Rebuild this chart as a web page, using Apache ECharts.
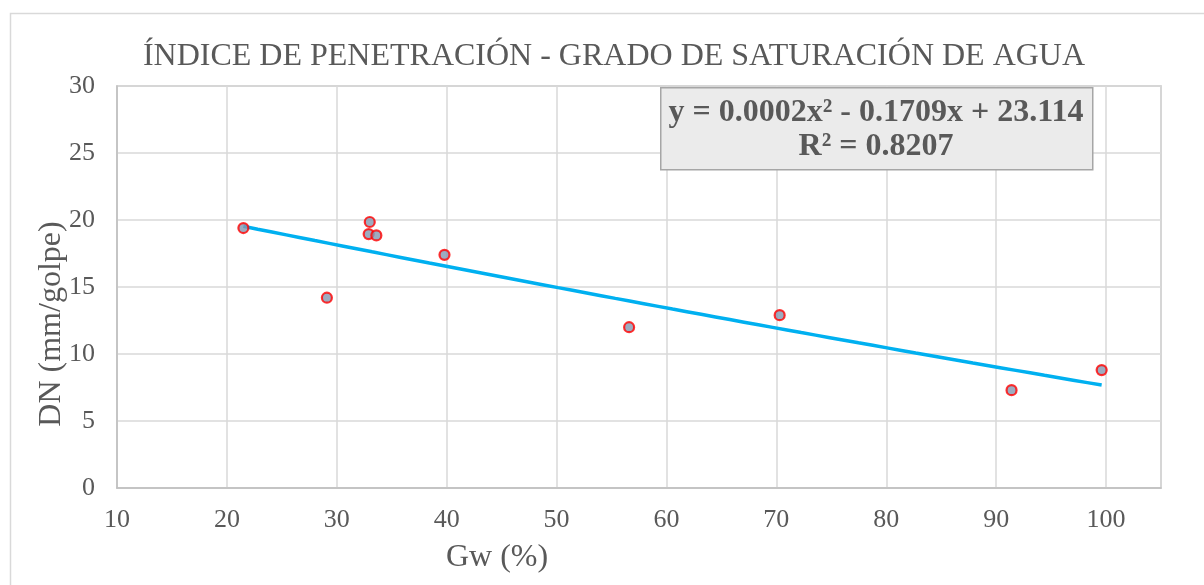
<!DOCTYPE html>
<html>
<head>
<meta charset="utf-8">
<script src="https://cdn.jsdelivr.net/npm/echarts@6/dist/echarts.min.js"></script>
<style>
html,body{margin:0;padding:0;background:#fff;}
#c{width:1204px;height:585px;}
</style>
</head>
<body>
<div id="c"></div>
<script>
// Data
const gw = [21.5, 29.1, 33.0, 32.9, 33.6, 39.8, 56.6, 70.3, 91.4, 99.6];
const dn = [19.4, 14.2, 19.85, 18.95, 18.85, 17.4, 12.0, 12.9, 7.3, 8.8];
const titleText = 'ÍNDICE DE PENETRACIÓN - GRADO DE SATURACIÓN DE AGUA';
const xTitle = 'Gw (%)';
const yTitle = 'DN (mm/golpe)';
const eqLine1 = 'y = 0.0002x² - 0.1709x + 23.114';
const eqLine2 = 'R² = 0.8207';

// Polynomial (order 2) least-squares trendline through the data, as the original does
function polyFit2(xs, ys) {
  let n = xs.length, s = [0,0,0,0,0], t = [0,0,0];
  for (let i = 0; i < n; i++) {
    let x = xs[i], y = ys[i], p = 1;
    for (let k = 0; k < 5; k++) { s[k] += p; if (k < 3) t[k] += p * y; p *= x; }
  }
  const A = [[s[0],s[1],s[2],t[0]],[s[1],s[2],s[3],t[1]],[s[2],s[3],s[4],t[2]]];
  for (let i = 0; i < 3; i++) {
    let m = i; for (let r = i+1; r < 3; r++) if (Math.abs(A[r][i]) > Math.abs(A[m][i])) m = r;
    [A[i], A[m]] = [A[m], A[i]];
    for (let r = 0; r < 3; r++) if (r !== i) {
      const f = A[r][i] / A[i][i];
      for (let c = i; c < 4; c++) A[r][c] -= f * A[i][c];
    }
  }
  return [A[0][3]/A[0][0], A[1][3]/A[1][1], A[2][3]/A[2][2]];
}
const coef = polyFit2(gw, dn);
const xMin = Math.min(...gw), xMax = Math.max(...gw);
const trend = [];
for (let i = 0; i <= 60; i++) {
  const x = xMin + (xMax - xMin) * i / 60;
  trend.push([x, coef[0] + coef[1]*x + coef[2]*x*x]);
}

const textColor = '#595959';
const font = '"Liberation Serif", "Times New Roman", serif';

const chart = echarts.init(document.getElementById('c'));
chart.setOption({
  animation: false,
  backgroundColor: '#fff',
  textStyle: { fontFamily: font },
  grid: { left: 117, right: 43, top: 86, bottom: 97, show: true, borderColor: '#bfbfbf', borderWidth: 1.5 },
  xAxis: {
    type: 'value', min: 10, max: 105, interval: 10,
    axisLine: { show: true, lineStyle: { color: '#bfbfbf', width: 1.5 } },
    axisTick: { show: false },
    axisLabel: { color: textColor, fontSize: 26, fontFamily: font, margin: 19, showMaxLabel: false,
      formatter: v => (v % 10 === 0 ? String(v) : '') },
    splitLine: { show: true, lineStyle: { color: '#d9d9d9', width: 1.5 } }
  },
  yAxis: {
    type: 'value', min: 0, max: 30, interval: 5,
    axisLine: { show: true, lineStyle: { color: '#bfbfbf', width: 1.5 } },
    axisTick: { show: false },
    axisLabel: { color: textColor, fontSize: 26, fontFamily: font, margin: 22 },
    splitLine: { show: true, lineStyle: { color: '#d9d9d9', width: 1.5 } }
  },
  series: [
    {
      type: 'line', data: trend, showSymbol: false, symbol: 'none', smooth: false,
      lineStyle: { color: '#00b0f0', width: 3.5 }, z: 2, silent: true
    },
    {
      type: 'scatter', data: gw.map((x, i) => [x, dn[i]]),
      symbol: 'circle', symbolSize: 10,
      itemStyle: { color: '#8497b0', borderColor: '#ff0000', borderWidth: 2.2 }, z: 3
    }
  ],
  graphic: [
    { type: 'rect', left: 8, top: 11, shape: { x: 0, y: 0, width: 1210, height: 600 }, silent: true,
      style: { fill: 'none', stroke: '#d9d9d9', lineWidth: 1.5 }, z: -10 },
    { type: 'text', x: 614, y: 57, silent: true,
      style: { text: titleText, fill: textColor, font: '32px ' + font, textAlign: 'center', textVerticalAlign: 'middle' } },
    { type: 'text', x: 497, y: 558, silent: true,
      style: { text: xTitle, fill: textColor, font: '32px ' + font, textAlign: 'center', textVerticalAlign: 'middle' } },
    { type: 'text', x: 52, y: 324, rotation: Math.PI / 2, silent: true,
      style: { text: yTitle, fill: textColor, font: '32px ' + font, textAlign: 'center', textVerticalAlign: 'middle' } },
    { type: 'rect', left: 660, top: 87, shape: { x: 0, y: 0, width: 432, height: 82 }, z: 10, silent: true,
      style: { fill: '#ebebeb', stroke: '#a6a6a6', lineWidth: 1.5 } },
    { type: 'text', x: 876, y: 113, z: 11, silent: true,
      style: { text: eqLine1, fill: textColor, font: 'bold 32px ' + font, textAlign: 'center', textVerticalAlign: 'middle' } },
    { type: 'text', x: 876, y: 147, z: 11, silent: true,
      style: { text: eqLine2, fill: textColor, font: 'bold 32px ' + font, textAlign: 'center', textVerticalAlign: 'middle' } }
  ]
});
</script>
</body>
</html>
